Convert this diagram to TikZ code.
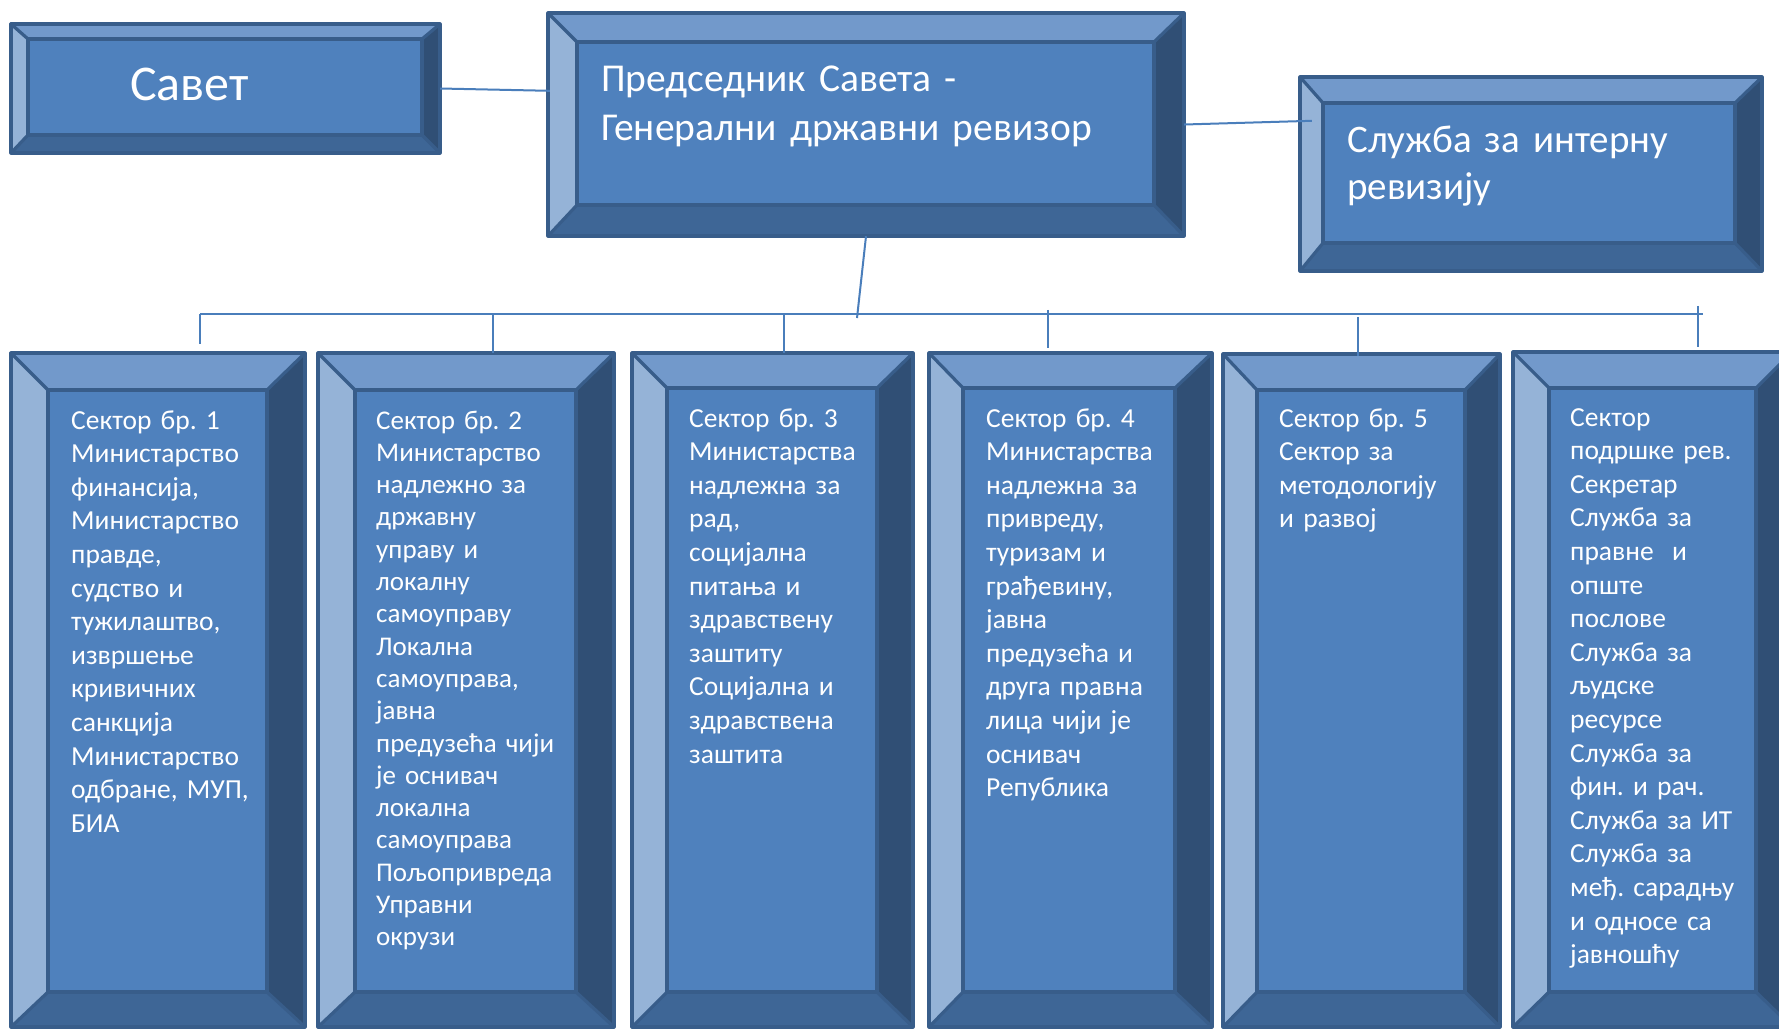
\documentclass[tikz,border=0pt]{standalone}
\usepackage{fontspec}
\setmainfont{Carlito}
\frenchspacing
\usetikzlibrary{calc}
\definecolor{bvface}{HTML}{4F81BD}
\definecolor{bvtop}{HTML}{7299CB}
\definecolor{bvleft}{HTML}{95B3D7}
\definecolor{bvright}{HTML}{304F75}
\definecolor{bvbot}{HTML}{3E6696}
\definecolor{bvline}{HTML}{385D8A}
\definecolor{connc}{HTML}{4A7EBB}
\newcommand\fsz[2]{\fontsize{#1}{#2}\selectfont}
\newcommand\bevbox[9]{%
  \fill[bvface] (#2,#3) rectangle (#4,#5);
  \fill[bvtop] (#2,#3) -- (#4,#3) -- ({#4-#8},{#3+#7}) -- ({#2+#6},{#3+#7}) -- cycle;
  \fill[bvleft] (#2,#3) -- ({#2+#6},{#3+#7}) -- ({#2+#6},{#5-#9}) -- (#2,#5) -- cycle;
  \fill[bvright] (#4,#3) -- (#4,#5) -- ({#4-#8},{#5-#9}) -- ({#4-#8},{#3+#7}) -- cycle;
  \fill[bvbot] (#2,#5) -- (#4,#5) -- ({#4-#8},{#5-#9}) -- ({#2+#6},{#5-#9}) -- cycle;
  \draw[bvstroke] ({#2+#6},{#3+#7}) rectangle ({#4-#8},{#5-#9});
  \draw[bvstroke] (#2,#3) -- ({#2+#6},{#3+#7}) (#4,#3) -- ({#4-#8},{#3+#7})
                  (#2,#5) -- ({#2+#6},{#5-#9}) (#4,#5) -- ({#4-#8},{#5-#9});
  \draw[bvstroke] (#2,#3) rectangle (#4,#5);
  \node[inner sep=0pt, minimum width={(#4-#2)*1pt}, minimum height={(#5-#3)*1pt}]
       (#1) at ({(#2+#4)/2},{(#3+#5)/2}) {};
}
\tikzset{
  bvstroke/.style={draw=bvline, line width=3.2pt, line join=round},
  conn/.style={draw=connc, line width=2pt},
  toptxt/.style={text=white, inner sep=0pt, anchor=base west, align=left, text width=#1},
  sectxt/.style={text=white, inner sep=0pt, anchor=base west, align=left, text width=240pt, font=\fsz{27.5}{33.6}},
}
\begin{document}
\begin{tikzpicture}[x=1pt,y=-1pt]
\useasboundingbox (0,0) rectangle (1779,1029);
\fill[white] (0,0) rectangle (1779,1029);

% top boxes
\bevbox{savet}{11}{24}{440}{153}{17}{15}{18}{18}
\bevbox{pred}{548}{13}{1184}{236}{29}{29}{30}{31}
\bevbox{sluz}{1300}{77}{1762}{271}{23}{26}{27}{28}

% sector boxes
\bevbox{s1}{11}{353}{305}{1027}{37}{37}{38}{35}
\bevbox{s2}{318}{353}{614}{1027}{37}{37}{38}{35}
\bevbox{s3}{632}{353}{913}{1027}{35}{35}{36}{35}
\bevbox{s4}{929}{353}{1212}{1027}{34}{35}{37}{35}
\bevbox{s5}{1223}{354}{1500}{1027}{34}{36}{35}{35}
\bevbox{s6}{1513}{352}{1792}{1027}{36}{36}{36}{35}

% texts
\node[toptxt=300pt, font=\fsz{50}{60}] (savet-t) at (130,100) {Савет};
\node[toptxt=560pt, font=\fsz{39.5}{49}] (pred-t) at (601,91) {Председник Савета -\\Генерални државни ревизор};
\node[toptxt=400pt, font=\fsz{39}{47}] (sluz-t) at (1347,152) {Служба за интерну\\ревизију};

\node[sectxt] (s1-t) at (71,429) {Сектор бр. 1\\Министарство\\финансија,\\Министарство\\правде,\\судство и\\тужилаштво,\\извршење\\кривичних\\санкција\\Министарство\\одбране, МУП,\\БИА};
\node[sectxt, font=\fsz{27}{32.3}] (s2-t) at (376,429) {Сектор бр. 2\\Министарство\\надлежно за\\државну\\управу и\\локалну\\самоуправу\\Локална\\самоуправа,\\јавна\\предузећа чији\\је оснивач\\локална\\самоуправа\\Пољопривреда\\Управни\\окрузи};
\node[sectxt] (s3-t) at (689,427) {Сектор бр. 3\\Министарства\\надлежна за\\рад,\\социјална\\питања и\\здравствену\\заштиту\\Социјална и\\здравствена\\заштита};
\node[sectxt] (s4-t) at (986,427) {Сектор бр. 4\\Министарства\\надлежна за\\привреду,\\туризам и\\грађевину,\\јавна\\предузећа и\\друга правна\\лица чији је\\оснивач\\Република};
\node[sectxt] (s5-t) at (1279,427) {Сектор бр. 5\\Сектор за\\методологију\\и развој};
\node[sectxt] (s6-t) at (1570,426) {Сектор\\подршке рев.\\Секретар\\Служба за\\правне~ и\\опште\\послове\\Служба за\\људске\\ресурсе\\Служба за\\фин. и рач.\\Служба за ИТ\\Служба за\\међ. сарадњу\\и односе са\\јавношћу};

% connectors
\coordinate (busL) at (200,314);
\coordinate (busR) at (1703,314);
\coordinate (busmid) at (857,318);
\draw[conn] (savet.east) -- ($(pred.north west)+(2,78)$);
\draw[conn] (pred.east) -- ($(sluz.north west)+(12,44)$);
\draw[conn] (pred.south) -- (busmid);
\draw[conn] (busL) -- (busR);
\draw[conn] (busL) -- ($(s1.north)+(42,-9)$);
\draw[conn] ($(s2.north)+(27,-39)$) -- ($(s2.north)+(27,0)$);
\draw[conn] ($(s3.north)+(11.5,-39)$) -- ($(s3.north)+(11.5,0)$);
\draw[conn] ($(s4.north)+(-22.5,-43)$) -- ($(s4.north)+(-22.5,-5)$);
\draw[conn] ($(s5.north)+(-3.5,-37)$) -- ($(s5.north)+(-3.5,2)$);
\draw[conn] ($(s6.north)+(45.5,-46)$) -- ($(s6.north)+(45.5,-5)$);
\end{tikzpicture}
\end{document}
